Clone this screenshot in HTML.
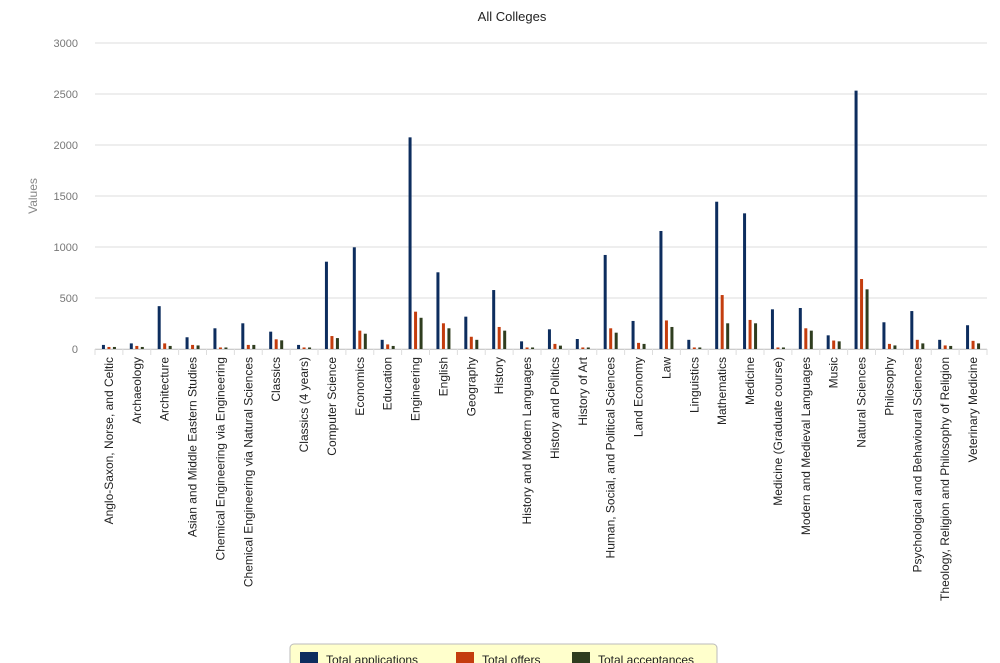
<!DOCTYPE html>
<html><head><meta charset="utf-8"><style>
html,body{margin:0;padding:0;background:#fff;width:1000px;height:663px;overflow:hidden;font-family:"Liberation Sans",Arial,sans-serif}
</style></head><body>
<svg id="chart" width="1000" height="663" xmlns="http://www.w3.org/2000/svg" font-family="Liberation Sans, Arial, sans-serif">
<text x="512" y="21" text-anchor="middle" font-size="13" fill="#222">All Colleges</text>
<text transform="translate(37,196) rotate(-90)" text-anchor="middle" font-size="12" fill="#888">Values</text>
<g id="grid"></g><g id="bars"></g><g id="labels"></g>
<g>
<rect x="290" y="644" width="427" height="30" rx="4" fill="#ffffcc" stroke="#bbb"/>
<rect x="300" y="652" width="18" height="14" fill="#0d2d5e"/>
<text x="326" y="664" font-size="12" fill="#222">Total applications</text>
<rect x="456" y="652" width="18" height="14" fill="#c43d0e"/>
<text x="482" y="664" font-size="12" fill="#222">Total offers</text>
<rect x="572" y="652" width="18" height="14" fill="#2f3d1f"/>
<text x="598" y="664" font-size="12" fill="#222">Total acceptances</text>
</g>
</svg>
<script>
const categories=["Anglo-Saxon, Norse, and Celtic","Archaeology","Architecture","Asian and Middle Eastern Studies","Chemical Engineering via Engineering","Chemical Engineering via Natural Sciences","Classics","Classics (4 years)","Computer Science","Economics","Education","Engineering","English","Geography","History","History and Modern Languages","History and Politics","History of Art","Human, Social, and Political Sciences","Land Economy","Law","Linguistics","Mathematics","Medicine","Medicine (Graduate course)","Modern and Medieval Languages","Music","Natural Sciences","Philosophy","Psychological and Behavioural Sciences","Theology, Religion and Philosophy of Religion","Veterinary Medicine"];
const applications=[40,55,420,115,203,252,170,40,856,997,90,2075,752,317,578,75,193,98,922,275,1157,90,1444,1330,389,402,134,2533,262,372,90,233];
const offers=[20,30,55,40,15,40,95,15,127,180,45,366,252,120,216,15,50,15,203,60,280,15,529,285,15,203,83,686,50,90,35,80];
const acceptances=[20,20,30,35,15,40,85,15,107,150,30,306,203,90,180,15,33,15,160,50,216,15,252,252,15,180,75,585,35,55,30,55];
const yTicks=[0,500,1000,1500,2000,2500,3000];
const NS="http://www.w3.org/2000/svg";
const x0=95,x1=987,yBase=349,yTop=43,yMax=3000;
const bw=(x1-x0)/categories.length;
function y(v){return yBase-(v/yMax)*(yBase-yTop);}
function xc(i){return x0+(i+0.5)*bw;}
function mk(t,a,p){const e=document.createElementNS(NS,t);for(const k in a)e.setAttribute(k,a[k]);p.appendChild(e);return e;}
const grid=document.getElementById('grid'),bars=document.getElementById('bars'),labels=document.getElementById('labels');
yTicks.forEach(v=>{
 const l=mk('line',{x1:x0,x2:x1,y1:y(v),y2:y(v),stroke:'#ddd','stroke-width':1},grid);
 
 
 const t=mk('text',{x:78,y:y(v)+4,'text-anchor':'end','font-size':11,fill:'#777'},grid);
 t.textContent=v;
 
 
});
mk('line',{x1:x0,x2:x1,y1:yBase+0.5,y2:yBase+0.5,stroke:'#ccc'},grid);
for(let i=0;i<=categories.length;i++){mk('line',{x1:x0+i*bw,x2:x0+i*bw,y1:yBase,y2:yBase+6,stroke:'#ddd'},grid);}
const series=[[applications,'#0d2d5e',-5.5,'applications'],[offers,'#c43d0e',0,'offers'],[acceptances,'#2f3d1f',5.5,'acceptances']];
categories.forEach((c,i)=>{
 series.forEach(s=>{
  const v=s[0][i];
  const r=mk('rect',{x:xc(i)+s[2]-1.5,y:y(v),width:3,height:yBase-y(v),fill:s[1]},bars);
  
  
 });
 const t=mk('text',{transform:`translate(${xc(i)+4},357) rotate(-90)`,'text-anchor':'end','font-size':12,fill:'#222'},labels);
 t.textContent=c;
 
 
});
</script>
</body></html>
